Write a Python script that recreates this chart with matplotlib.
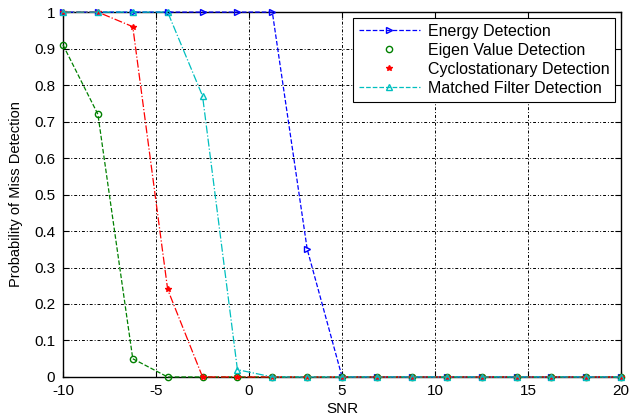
import matplotlib.pyplot as plt
from matplotlib.lines import Line2D

plt.rcParams["font.family"] = ["Liberation Sans", "DejaVu Sans"]
plt.rcParams["axes.unicode_minus"] = False

snr = [-10, -8.125, -6.25, -4.375, -2.5, -0.625, 1.25, 3.125, 5,
       6.875, 8.75, 10.625, 12.5, 14.375, 16.25, 18.125, 20]
energy = [1, 1, 1, 1, 1, 1, 1, 0.35, 0, 0, 0, 0, 0, 0, 0, 0, 0]
eigen = [0.91, 0.72, 0.05, 0, 0, 0, 0, 0, 0, 0, 0, 0, 0, 0, 0, 0, 0]
cyclo = [1, 1, 0.96, 0.24, 0, 0, 0, 0, 0, 0, 0, 0, 0, 0, 0, 0, 0]
matched = [1, 1, 1, 1, 0.77, 0.02, 0, 0, 0, 0, 0, 0, 0, 0, 0, 0, 0]

labels = ["Energy Detection", "Eigen Value Detection",
          "Cyclostationary Detection", "Matched Filter Detection"]

fig = plt.figure(figsize=(6.3, 4.17), dpi=100)
ax = fig.add_axes([0.1, 0.096, 0.886, 0.875])

ax.plot(snr, energy, color="blue", ls="--", lw=0.9, marker=">", ms=5,
        mfc="none", clip_on=False, zorder=3)
ax.plot(snr, eigen, color="green", ls="--", lw=0.9, marker="o", ms=4.5,
        mfc="none", clip_on=False, zorder=3)
ax.plot(snr, cyclo, color="red", ls="-.", lw=0.9, marker="*", ms=4,
        clip_on=False, zorder=3)
ax.plot(snr, matched, color="c", ls="-.", lw=0.9, marker="^", ms=5,
        mfc="none", clip_on=False, zorder=3)

ax.set_xlim(-10, 20)
ax.set_ylim(0, 1)
ax.set_xticks([-10, -5, 0, 5, 10, 15, 20])
ax.set_yticks([0, 0.1, 0.2, 0.3, 0.4, 0.5, 0.6, 0.7, 0.8, 0.9, 1])
ax.set_yticklabels(["0", "0.1", "0.2", "0.3", "0.4", "0.5", "0.6", "0.7",
                    "0.8", "0.9", "1"])
ax.tick_params(direction="in", labelsize=11, length=4, top=True, right=True)
ax.tick_params(axis="x", pad=5)
ax.tick_params(axis="y", pad=5.5)
ax.grid(True, color="black", ls=(0, (1, 2, 3, 2)), lw=0.7)
for s in ax.spines.values():
    s.set_linewidth(1.0)

ax.set_xlabel("SNR", fontsize=11, labelpad=3)
ax.set_ylabel("Probability of Miss Detection", fontsize=10.5, labelpad=8)

handles = [
    Line2D([], [], color="blue", ls="--", lw=0.9, marker=">", ms=5, mfc="none"),
    Line2D([], [], color="green", ls="none", marker="o", ms=4.5, mfc="none"),
    Line2D([], [], color="red", ls="none", marker="*", ms=4),
    Line2D([], [], color="c", ls="--", lw=0.9, marker="^", ms=5, mfc="none"),
]
leg = ax.legend(handles, labels, loc="upper right", fontsize=11.5,
                fancybox=False, framealpha=1, edgecolor="black",
                borderaxespad=0.4, handlelength=3.8, handletextpad=0.5,
                labelspacing=0.25, borderpad=0.35)
leg.get_frame().set_linewidth(0.8)

fig.savefig("out.png", dpi=100)
